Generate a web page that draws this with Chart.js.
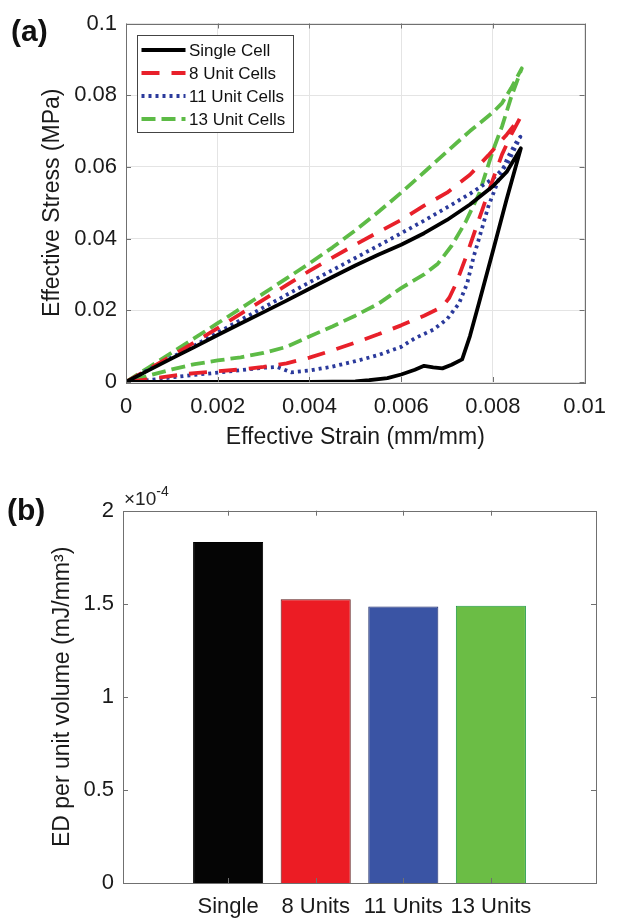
<!DOCTYPE html>
<html><head><meta charset="utf-8">
<script src="https://cdn.jsdelivr.net/npm/chart.js@4.4.1/dist/chart.umd.min.js"></script>
<style>
html,body{margin:0;padding:0;background:#fff;}
#wrap{position:relative;width:618px;height:918px;overflow:hidden;font-family:'Liberation Sans',Arial,Helvetica,sans-serif;}
.panel{position:absolute;left:0;width:618px;}
#pa{top:0;height:460px;}
#pb{top:460px;height:458px;}
.tag{position:absolute;font-weight:bold;font-size:30px;color:#111;line-height:30px;}
#exp{position:absolute;font-size:19px;color:#222;line-height:19px;white-space:nowrap;}
#exp .sup{font-size:14px;position:relative;top:-9px;}
</style></head><body>
<div id="wrap">
<div class="panel" id="pa"><canvas id="ca"></canvas></div>
<div class="panel" id="pb"><canvas id="cb"></canvas></div>
<div class="tag" style="left:11px;top:16px">(a)</div>
<div class="tag" style="left:7px;top:495px">(b)</div>
<div id="exp" style="left:124px;top:489px">×10<span class="sup">-4</span></div>
</div>
<script>
// ---------- Data: panel (a) effective stress-strain loops (loading then unloading) ----------
const singleStrain = [0,0.0005,0.001,0.0015,0.002,0.0025,0.003,0.0035,0.004,0.0045,0.005,0.0055,0.006,0.0065,0.007,0.0075,0.008,0.0083,0.00861,
  0.0083,0.008,0.0077,0.0075,0.00733,0.0071,0.0069,0.0067,0.0065,0.0063,0.006,0.0057,0.0053,0.005,0.004,0.003,0.002,0.001,0];
const singleStress = [0,0.0033,0.0066,0.0098,0.0131,0.0163,0.0195,0.0227,0.026,0.0293,0.0325,0.0355,0.0383,0.0415,0.0452,0.0495,0.0546,0.0586,0.0652,
  0.051,0.0365,0.0222,0.0128,0.0063,0.0048,0.0038,0.0041,0.0045,0.0034,0.0021,0.0011,0.0005,0.0002,0,0,0,0,0];

const unit8Strain = [0,0.0005,0.001,0.0015,0.002,0.0025,0.003,0.0035,0.004,0.0045,0.005,0.0055,0.006,0.0065,0.007,0.0075,0.0079,0.0083,0.0086,
  0.0084,0.0082,0.00797,0.0077,0.00744,0.0072,0.00705,0.0069,0.0065,0.006,0.0055,0.005,0.0045,0.004,0.0035,0.003,0.0025,0.002,0.0015,0.001,0.0005,0];
const unit8Stress = [0,0.0036,0.0073,0.0111,0.015,0.019,0.023,0.027,0.031,0.0347,0.0383,0.0418,0.0452,0.0492,0.0528,0.0578,0.0632,0.069,0.0738,
  0.069,0.0635,0.0554,0.0455,0.0358,0.0275,0.0235,0.021,0.0185,0.0158,0.0133,0.011,0.0088,0.0068,0.0052,0.0042,0.0035,0.003,0.0025,0.0017,0.0008,0];

const unit11Strain = [0,0.0005,0.001,0.0015,0.002,0.0025,0.003,0.0035,0.004,0.0045,0.005,0.0055,0.006,0.0065,0.007,0.0075,0.008,0.0083,0.0086,
  0.00854,0.00833,0.00812,0.0079,0.00773,0.00758,0.00744,0.00726,0.007,0.0067,0.0063,0.006,0.0055,0.005,0.0045,0.004,0.0036,0.0033,0.003,0.0025,0.002,0.0015,0.001,0.0005,0];
const unit11Stress = [0,0.0035,0.0069,0.0102,0.0138,0.0173,0.0208,0.0243,0.0278,0.0312,0.0346,0.038,0.0415,0.045,0.0487,0.0525,0.0567,0.0605,0.0684,
  0.0675,0.0628,0.0563,0.0489,0.0414,0.0349,0.0275,0.0219,0.0175,0.0146,0.0122,0.0098,0.0075,0.0058,0.0043,0.0032,0.0027,0.0042,0.004,0.0033,0.0026,0.002,0.0013,0.0005,0];

const unit13Strain = [0,0.0005,0.001,0.0015,0.002,0.0025,0.003,0.0035,0.004,0.0045,0.005,0.0055,0.006,0.0065,0.007,0.0075,0.008,0.0082,0.0084,0.00863,
  0.0084,0.0082,0.008,0.0077,0.0074,0.0071,0.0068,0.0065,0.006,0.0055,0.005,0.0045,0.004,0.0035,0.003,0.0025,0.002,0.0015,0.001,0.0005,0];
const unit13Stress = [0,0.0041,0.0082,0.0123,0.0164,0.0205,0.0247,0.0289,0.0331,0.0375,0.0423,0.0474,0.0528,0.0585,0.0643,0.0700,0.0752,0.0778,0.082,0.0875,
  0.0795,0.0713,0.0645,0.0525,0.0445,0.038,0.033,0.030,0.0262,0.0218,0.0185,0.0155,0.0127,0.0098,0.0081,0.0069,0.006,0.005,0.0035,0.0018,0];

const seriesLabels = ['Single Cell','8 Unit Cells','11 Unit Cells','13 Unit Cells'];

// ---------- Data: panel (b) energy dissipation per unit volume (x 10^-4 mJ/mm^3) ----------
const edCategories = ['Single','8 Units','11 Units','13 Units'];
const edValues = [1.832, 1.524, 1.485, 1.490];

// ---------- Styling ----------
const FONT = "'Liberation Sans', Arial, Helvetica, sans-serif";
Chart.defaults.font.family = FONT;
Chart.defaults.color = '#1a1a1a';

function pts(xs, ys){ return xs.map((x,i)=>({x:x, y:ys[i]})); }
const fmt = v => String(+Number(v).toFixed(4));

const frameTicks = {
  id:'frameTicks',
  afterDatasetsDraw(chart, args, o){
    const ctx = chart.ctx, ca = chart.chartArea;
    const xs = chart.scales.x, ys = chart.scales.y, L = o.len;
    ctx.save();
    ctx.strokeStyle = o.color; ctx.lineWidth = 1; ctx.setLineDash([]);
    ctx.beginPath();
    xs.ticks.forEach(t => { const px = Math.round(xs.getPixelForValue(t.value))+0.5;
      ctx.moveTo(px, ca.bottom); ctx.lineTo(px, ca.bottom-L); ctx.moveTo(px, ca.top); ctx.lineTo(px, ca.top+L); });
    ys.ticks.forEach(t => { const py = Math.round(ys.getPixelForValue(t.value))+0.5;
      ctx.moveTo(ca.left, py); ctx.lineTo(ca.left+L, py); ctx.moveTo(ca.right, py); ctx.lineTo(ca.right-L, py); });
    ctx.stroke();
    ctx.strokeRect(Math.round(ca.left)+0.5, Math.round(ca.top)+0.5, Math.round(ca.right-ca.left), Math.round(ca.bottom-ca.top));
    ctx.restore();
  }
};

const boxLegend = {
  id:'boxLegend',
  afterDraw(chart, args, o){
    const ctx = chart.ctx, ca = chart.chartArea, dss = chart.data.datasets;
    ctx.save();
    ctx.font = o.fontSize + 'px ' + FONT;
    const tw = Math.max(...dss.map(d => ctx.measureText(d.label).width));
    const x0 = Math.round(ca.left + o.offsetX), y0 = Math.round(ca.top + o.offsetY);
    const w = Math.round(o.textGap + tw + o.padRight);
    const h = Math.round(o.padTop + (dss.length-1)*o.rowH + o.padBottom);
    ctx.fillStyle = '#fff'; ctx.fillRect(x0, y0, w, h);
    ctx.strokeStyle = o.borderColor; ctx.lineWidth = 1; ctx.strokeRect(x0+0.5, y0+0.5, w, h);
    dss.forEach((d,i) => {
      const cy = y0 + o.padTop + i*o.rowH;
      ctx.beginPath();
      ctx.setLineDash(d.borderDash || []);
      ctx.lineCap = d.borderCapStyle || 'butt';
      ctx.strokeStyle = d.borderColor; ctx.lineWidth = d.borderWidth;
      ctx.moveTo(x0 + o.lineStart, cy); ctx.lineTo(x0 + o.lineStart + o.lineLen, cy); ctx.stroke();
      ctx.setLineDash([]);
      ctx.fillStyle = '#111'; ctx.textBaseline = 'middle'; ctx.textAlign = 'left';
      ctx.fillText(d.label, x0 + o.textGap, cy + 1);
    });
    ctx.restore();
  }
};

const lineBase = {pointRadius:0, pointHoverRadius:0, tension:0, borderJoinStyle:'round', fill:false, borderWidth:3.8};

new Chart(document.getElementById('ca'), {
  type:'line',
  data:{ datasets:[
    Object.assign({label:seriesLabels[0], data:pts(singleStrain, singleStress), borderColor:'#000000', borderDash:[]}, lineBase),
    Object.assign({label:seriesLabels[1], data:pts(unit8Strain, unit8Stress), borderColor:'#e8202a', borderDash:[18,12]}, lineBase),
    Object.assign({label:seriesLabels[2], data:pts(unit11Strain, unit11Stress), borderColor:'#2b3a9c', borderDash:[3,4]}, lineBase),
    Object.assign({label:seriesLabels[3], data:pts(unit13Strain, unit13Stress), borderColor:'#5dbb46', borderDash:[14,6]}, lineBase)
  ]},
  options:{
    responsive:true, maintainAspectRatio:false, animation:false,
    layout:{padding:{left:0, right:23, top:23.5, bottom:0}},
    plugins:{
      legend:{display:false}, tooltip:{enabled:false},
      frameTicks:{color:'#707070', len:5},
      boxLegend:{fontSize:17, offsetX:10.5, offsetY:11, padTop:15, rowH:23, padBottom:13, lineStart:4.5, lineLen:44, textGap:52, padRight:8, borderColor:'#444'}
    },
    scales:{
      x:{type:'linear', min:0, max:0.01,
        ticks:{stepSize:0.002, font:{size:22}, padding:12, callback:fmt, maxRotation:0, autoSkip:false},
        grid:{color:'#e4e4e4', drawTicks:false}, border:{display:false},
        title:{display:true, text:'Effective Strain (mm/mm)', font:{size:23}, padding:{top:0, bottom:9}},
        afterFit: s => { s.height = 78; }},
      y:{type:'linear', min:0, max:0.1,
        ticks:{stepSize:0.02, font:{size:22}, padding:9, callback:fmt},
        grid:{color:'#e4e4e4', drawTicks:false}, border:{display:false},
        title:{display:true, text:'Effective Stress (MPa)', font:{size:23}, padding:{top:39, bottom:0}},
        afterFit: s => { s.width = 126; }}
    }
  },
  plugins:[frameTicks, boxLegend]
});

new Chart(document.getElementById('cb'), {
  type:'bar',
  data:{ datasets:[{
    label:'ED per unit volume',
    data: edValues.map((v,i) => ({x:i+1, y:v})),
    backgroundColor:['#050505','#ec1c24','#3a54a4','#6bbd45'],
    borderColor:['#000000','#5a1515','#1d2a6b','#1e9a45'],
    borderWidth:1, borderSkipped:'bottom',
    categoryPercentage:1.0, barPercentage:0.8
  }]},
  options:{
    responsive:true, maintainAspectRatio:false, animation:false,
    layout:{padding:{left:0, right:22, top:50.7, bottom:0}},
    plugins:{legend:{display:false}, tooltip:{enabled:false}, frameTicks:{color:'#707070', len:5}},
    scales:{
      x:{type:'linear', min:-0.2, max:5.2, offset:false,
        grid:{display:false, drawTicks:false, offset:false}, border:{display:false},
        afterBuildTicks: s => { s.ticks = edCategories.map((c,i) => ({value:i+1})); },
        ticks:{callback: v => edCategories[Math.round(v)-1] || '', font:{size:22}, padding:11, autoSkip:false, maxRotation:0},
        afterFit: s => { s.height = 35; }},
      y:{type:'linear', min:0, max:2,
        ticks:{stepSize:0.5, font:{size:22}, padding:9, callback:fmt},
        grid:{display:false, drawTicks:false}, border:{display:false},
        title:{display:true, text:'ED per unit volume (mJ/mm³)', font:{size:23}, padding:{top:49, bottom:0}},
        afterFit: s => { s.width = 123; }}
    }
  },
  plugins:[frameTicks]
});
</script>
</body></html>
